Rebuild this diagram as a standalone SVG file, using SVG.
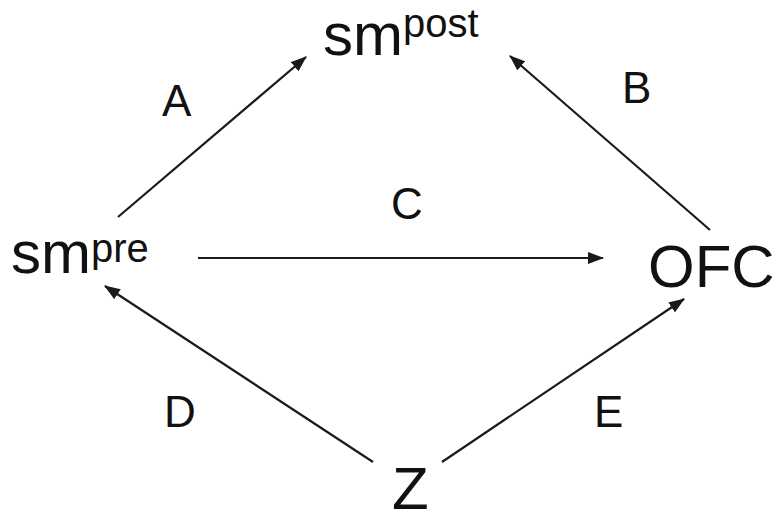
<svg xmlns="http://www.w3.org/2000/svg" width="780" height="521" viewBox="0 0 780 521">
<style>
.t{font-family:"Liberation Sans",Arial,sans-serif;fill:#111}
.big{font-size:60px}
.sup{font-size:40px}
.lbl{font-size:44px}
.c{stroke:#1a1a1a;stroke-width:2.2;fill:none;marker-end:url(#ah)}
</style>
<defs>
<marker id="ah" markerUnits="userSpaceOnUse" markerWidth="16" markerHeight="12" viewBox="0 0 16 12" refX="15" refY="6" orient="auto">
<path d="M0,0 L16,6 L0,12 Z" fill="#1a1a1a"/>
</marker>
</defs>
<rect width="780" height="521" fill="#fff"/>
<g id="connectors">
<line class="c" x1="118" y1="217" x2="306" y2="57"/>
<line class="c" x1="710" y1="230" x2="510" y2="56"/>
<line class="c" x1="198" y1="258" x2="603" y2="258"/>
<line class="c" x1="373" y1="462" x2="105" y2="286"/>
<line class="c" x1="442" y1="462" x2="684" y2="299"/>
</g>
<g id="labels">
<text class="t lbl" x="162" y="116">A</text>
<text class="t lbl" x="622" y="103">B</text>
<text class="t lbl" x="391" y="219">C</text>
<text class="t lbl" x="164" y="427">D</text>
<text class="t lbl" x="594" y="427">E</text>
</g>
<g id="smpost"><text class="t big" x="323" y="55">sm<tspan class="sup" dy="-18">post</tspan></text></g>
<g id="smpre"><text class="t big" x="11" y="273">sm<tspan class="sup" dy="-11">pre</tspan></text></g>
<g id="OFC"><text class="t big" x="648" y="287">OFC</text></g>
<g id="Z"><text class="t big" x="392" y="509" font-size="58">Z</text></g>
</svg>
